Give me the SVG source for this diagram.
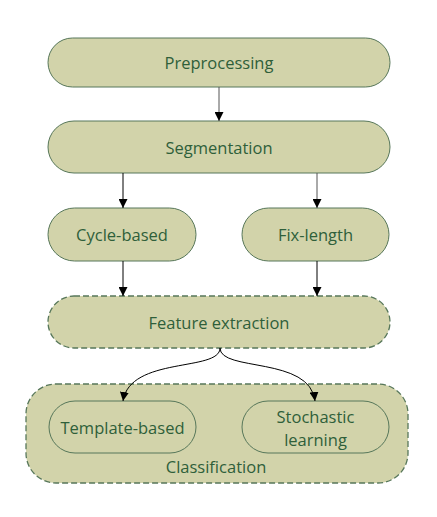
<svg xmlns="http://www.w3.org/2000/svg" width="437" height="517" viewBox="0 0 437 517">
<defs>
<marker id="ah" viewBox="0 0 10 10" refX="10" refY="5" markerWidth="9" markerHeight="9" markerUnits="userSpaceOnUse" orient="auto">
<path d="M0,0 L10,5 L0,10 z" fill="#000"/>
</marker>
<style>
.n{fill:#d2d3aa;stroke:#57775a;stroke-width:1}
.d{fill:#d2d3aa;stroke:#57775a;stroke-width:1.3;stroke-dasharray:6 3}
.i{fill:none;stroke:#57775a;stroke-width:1}
.t{font-family:"Open Sans","Noto Sans",sans-serif;font-size:16.5px;fill:#2f5f3a;text-anchor:middle;dominant-baseline:central}
.c{fill:none;stroke:#000;stroke-width:1;marker-end:url(#ah)}
.cg{fill:none;stroke:#555;stroke-width:1;marker-end:url(#ah)}
</style>
</defs>
<rect width="437" height="517" fill="#fff"/>
<g id="preprocessing"><rect class="n" x="48" y="38" width="342" height="49" rx="24.5"/><text class="t" x="219" y="62.5">Preprocessing</text></g>
<g id="segmentation"><rect class="n" x="48" y="121" width="342" height="52" rx="26"/><text class="t" x="219" y="147">Segmentation</text></g>
<g id="cycle-based"><rect class="n" x="48" y="208" width="148" height="53" rx="26.5"/><text class="t" x="122" y="234.5">Cycle-based</text></g>
<g id="fix-length"><rect class="n" x="242" y="208" width="147" height="53" rx="26.5"/><text class="t" x="315.5" y="234.5">Fix-length</text></g>
<g id="feature-extraction"><rect class="d" x="48" y="296" width="342" height="52" rx="26"/><text class="t" x="219" y="322">Feature extraction</text></g>
<g id="classification"><rect class="d" x="26" y="384" width="382" height="99" rx="30"/><text class="t" x="216" y="466">Classification</text>
<g id="template-based"><rect class="i" x="49" y="401" width="147" height="52" rx="26"/><text class="t" x="122.5" y="427">Template-based</text></g>
<g id="stochastic-learning"><rect class="i" x="242" y="401" width="147" height="52" rx="26"/><text class="t" x="315.5" y="416">Stochastic</text><text class="t" x="315.5" y="439">learning</text></g>
</g>
<g id="connectors">
<line class="cg" x1="219" y1="87" x2="219" y2="121"/>
<line class="c" x1="123" y1="173" x2="123" y2="208"/>
<line class="cg" x1="317" y1="173" x2="317" y2="208"/>
<line class="c" x1="123" y1="261" x2="123" y2="296"/>
<line class="c" x1="317" y1="261" x2="317" y2="296"/>
<path class="c" d="M220,348 C220,372 130,356 123,401"/>
<path class="c" d="M220,348 C220,372 310,356 315,401"/>
</g>
</svg>
